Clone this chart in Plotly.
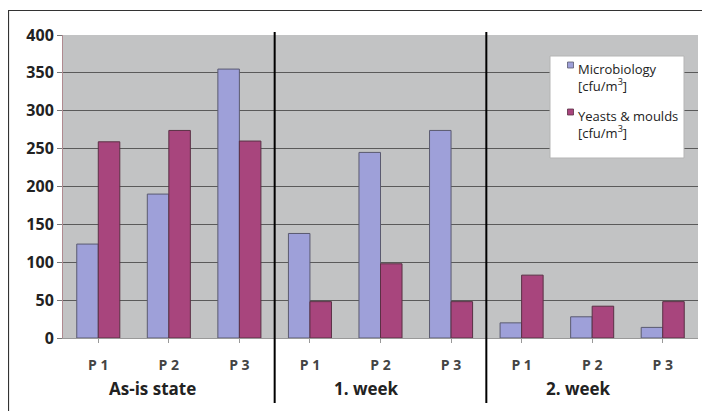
import plotly.graph_objects as go

# ---- data ----
categories = ["P 1", "P 2", "P 3", "P 1", "P 2", "P 3", "P 1", "P 2", "P 3"]
groups = ["As-is state", "1. week", "2. week"]
microbiology = [124, 190, 355, 138, 245, 274, 20, 28, 14]
yeasts_moulds = [259, 274, 260, 48, 98, 48, 83, 42, 48]
y_ticks = [0, 50, 100, 150, 200, 250, 300, 350, 400]
legend_labels = ["Microbiology<br>[cfu/m<sup>3</sup>]", "Yeasts & moulds<br>[cfu/m<sup>3</sup>]"]

OFF = 8  # page body margin
W, H = 702, 403
# desired plot box in page pixels
PL, PR, PT, PB = 63, 698, 35, 338
L, R = PL - OFF, OFF + W - PR
T, B = PT - OFF, OFF + H - PB
PW, PH = PR - PL, PB - PT

def px(x):
    return (x - PL) / PW

def py(y):
    return 1 - (y - PT) / PH

xs = list(range(len(categories)))
MICRO_C = "#9ea0d9"
YEAST_C = "#a8457d"

fig = go.Figure()
fig.add_trace(go.Bar(x=xs, y=microbiology, name="Microbiology [cfu/m³]",
                     marker=dict(color=MICRO_C, line=dict(color="#5a5a70", width=1)),
                     showlegend=False))
fig.add_trace(go.Bar(x=xs, y=yeasts_moulds, name="Yeasts & moulds [cfu/m³]",
                     marker=dict(color=YEAST_C, line=dict(color="#5a3045", width=1)),
                     showlegend=False))

shapes = []
# outer frame
shapes.append(dict(type="rect", xref="paper", yref="paper",
                   x0=px(8.5), x1=px(730), y0=py(430), y1=py(10.5),
                   line=dict(color="#333", width=1.2), fillcolor="rgba(0,0,0,0)", layer="below"))
# separators between groups
for xb in [2.5, 5.5]:
    shapes.append(dict(type="line", xref="x", yref="paper", x0=xb, x1=xb,
                       y0=py(403), y1=py(32), line=dict(color="black", width=2)))
# legend box
shapes.append(dict(type="rect", xref="paper", yref="paper",
                   x0=px(550), x1=px(684), y0=py(158), y1=py(56),
                   fillcolor="white", line=dict(color="#b5b5b5", width=1)))
# legend swatches
for yc, col, lc in [(65, MICRO_C, "#5a5a70"), (112, YEAST_C, "#5a3045")]:
    shapes.append(dict(type="rect", xref="paper", yref="paper",
                       x0=px(567.5), x1=px(573.5), y0=py(yc + 3), y1=py(yc - 3),
                       fillcolor=col, line=dict(color=lc, width=0.8)))

annotations = []
for i, g in enumerate(groups):
    gx = [152.5, 366, 578][i]
    annotations.append(dict(text="<b>%s</b>" % g, xref="paper", yref="paper",
                            x=px(gx), y=py(388), xanchor="center", yanchor="middle",
                            showarrow=False, font=dict(size=17, color="#222", family="Open Sans")))
leg_font = dict(size=13, color="#222", family="Open Sans")
for txt, ytop in zip(legend_labels, [58, 105]):
    annotations.append(dict(text=txt, xref="paper", yref="paper", x=px(576), y=py(ytop),
                            xanchor="left", yanchor="top", align="left",
                            showarrow=False, font=leg_font))

fig.update_layout(
    width=W, height=H,
    margin=dict(l=L, r=R, t=T, b=B, autoexpand=False),
    paper_bgcolor="white", plot_bgcolor="#c2c3c4",
    barmode="group", bargap=0.39, bargroupgap=0,
    shapes=shapes, annotations=annotations,
    showlegend=False,
)
fig.update_xaxes(range=[-0.5, 8.5], tickmode="array", tickvals=xs,
                 ticktext=["<b>%s</b>" % c for c in categories],
                 tickfont=dict(size=14, color="#444", family="Open Sans"),
                 showgrid=False, zeroline=False, showline=True, linecolor="#999",
                 ticks="outside", ticklen=4, tickcolor="#999", tickson="boundaries",
                 ticklabelstandoff=10, fixedrange=True)
fig.update_yaxes(range=[0, 400], tickvals=y_ticks,
                 ticktext=["<b>%d</b>" % v for v in y_ticks],
                 tickfont=dict(size=16, color="#222", family="Open Sans"),
                 showgrid=True, gridcolor="#5a5a5a", gridwidth=1,
                 zeroline=False, showline=True, linecolor="#b08a90",
                 ticks="outside", ticklen=5, tickcolor="#777", fixedrange=True)

fig.write_html("out.html")
